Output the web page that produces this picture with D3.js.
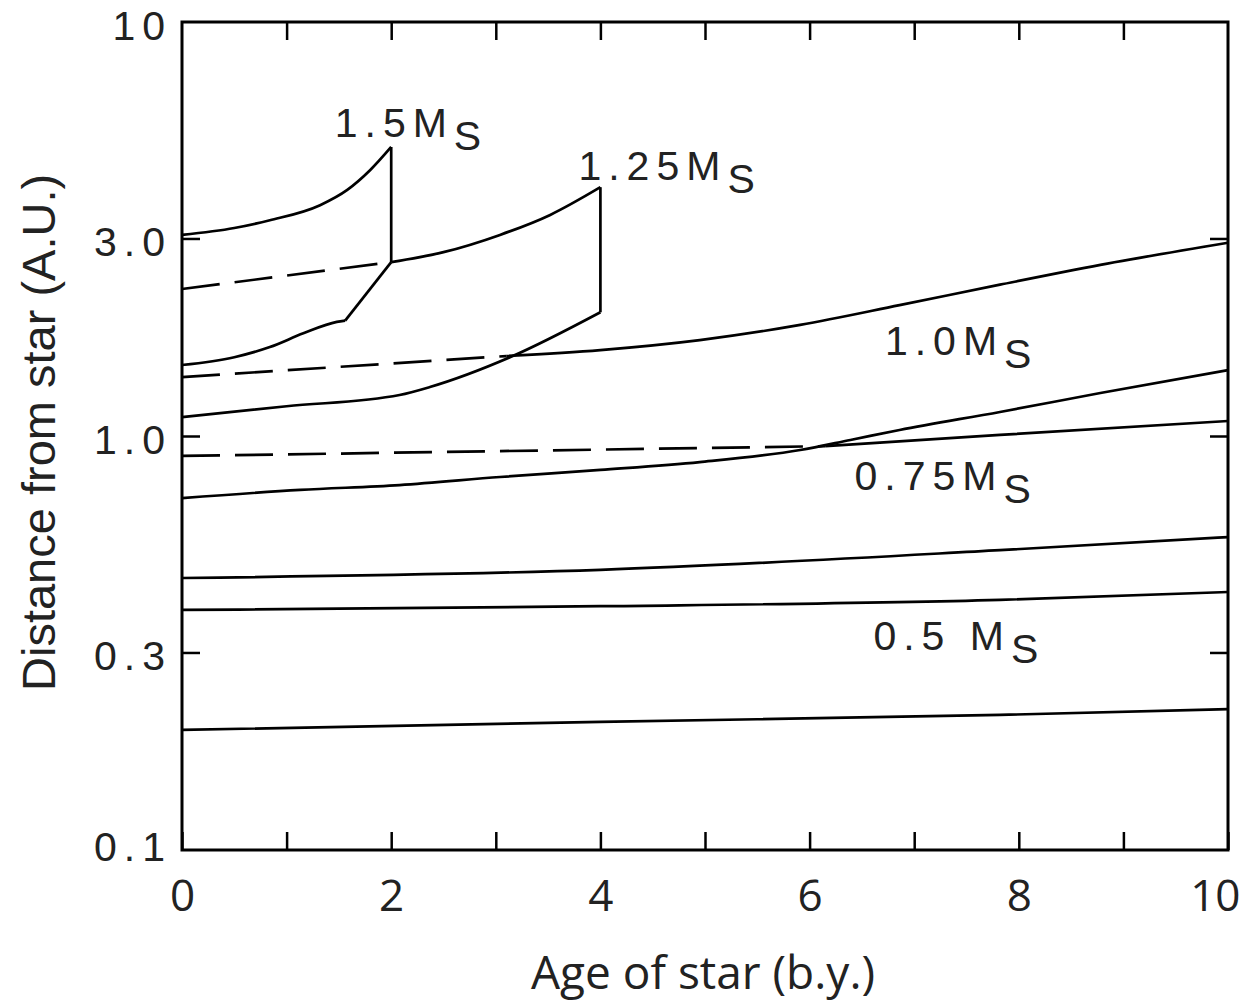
<!DOCTYPE html>
<html>
<head>
<title>Habitable zone vs age</title>
<script src="https://d3js.org/d3.v7.min.js"></script>
<style type="text/css">
	body{ margin:0; background:white; }
	.curve{ fill:none; stroke:black; stroke-width:2.7; }
	.dashed{ stroke-dasharray:38,15; }
	.frame{ fill:none; stroke:black; stroke-width:3; }
	.axis line{ stroke:black; stroke-width:2.5; }
	.axis path{ display:none; }
	.ylab text{ font-family:"Liberation Sans"; font-size:41px; letter-spacing:7px; fill:#222; }
	.xlab text{ font-family:"Open Sans"; font-size:44px; fill:#222; }
	.title{ font-family:"Open Sans"; font-size:46px; fill:#222; }
	.ytitle{ font-family:"Liberation Sans"; font-size:47px; fill:#222; }
	.mass{ font-family:"Liberation Sans"; font-size:41px; letter-spacing:7px; fill:#222; }
</style>
</head>
<body>
<svg id="chart" width="1242" height="1002"></svg>
<script>
// age in b.y., distance in A.U.
var outer15   = [[0,3.06],[0.5,3.18],[0.84,3.32],[1.32,3.61],[1.58,3.93],[1.8,4.39],[2.0,4.99]];
var drop15    = [[2.0,4.99],[2.0,2.63]];
var start15   = [[0,2.265],[2.0,2.63]];
var inner15   = [[0,1.484],[0.5,1.55],[0.84,1.64],[1.16,1.77],[1.48,1.886],[1.56,1.90]];
var climb15   = [[1.56,1.90],[2.0,2.63]];
var outer125  = [[2.0,2.63],[2.5,2.78],[3.04,3.06],[3.52,3.42],[4.0,3.99]];
var drop125   = [[4.0,3.99],[4.0,1.99]];
var start125  = [[0,1.388],[3.1,1.56]];
var inner125  = [[0,1.111],[1.0,1.18],[2.08,1.256],[2.37,1.313],[3.14,1.551],[4.0,1.99]];
var outer10   = [[3.1,1.56],[4.0,1.613],[4.95,1.705],[5.91,1.855],[6.86,2.07],[7.82,2.32],[8.78,2.59],[10,2.93]];
var start10   = [[0,0.895],[6.15,0.945]];
var inner10   = [[6.15,0.945],[7.82,1.006],[10,1.087]];
var outer075  = [[0,0.708],[1.13,0.741],[2.08,0.761],[3.04,0.796],[4.0,0.828],[4.95,0.865],[5.91,0.925],[6.39,0.978],[6.86,1.034],[7.82,1.143],[8.78,1.27],[10,1.443]];
var inner075  = [[0,0.454],[4.0,0.475],[7.82,0.53],[10,0.57]];
var outer05   = [[0,0.380],[4.0,0.388],[7.82,0.402],[10,0.420]];
var inner05   = [[0,0.195],[4.0,0.204],[7.82,0.212],[10,0.219]];

var smoothCurves = [outer15, inner15, outer125, inner125, outer10, inner10, outer075, inner075, outer05, inner05];
var sharpLines   = [climb15, drop15, drop125];
var dashedCurves = [start15, start125, start10];

// curve labels: text, age, distance
var massNames = ["1.5", "1.25", "1.0", "0.75", "0.5 "];
var massAge   = [1.46, 3.79, 6.72, 6.43, 6.61];
var massDist  = [5.27, 4.15, 1.569, 0.741, 0.304];

var xTicks = [0,1,2,3,4,5,6,7,8,9,10];
var yTicks = [0.1, 0.3, 1, 3, 10];
var yTickNames = ["0.1", "0.3", "1.0", "3.0", "10"];

var svg = d3.select("#chart");
var margin = {top:22, right:14, bottom:152, left:182};
var width = +svg.attr("width");
var height = +svg.attr("height");

var x = d3.scaleLinear().domain([0,10]).range([margin.left, width - margin.right]);
var y = d3.scaleLog().domain([0.1,10]).range([height - margin.bottom, margin.top]);

var line = d3.line()
	.x(function(d){ return x(d[0]); })
	.y(function(d){ return y(d[1]); })
	.curve(d3.curveMonotoneX);
var straight = d3.line()
	.x(function(d){ return x(d[0]); })
	.y(function(d){ return y(d[1]); });

// ticks, all pointing into the box
var bottom = svg.append("g").attr("class","axis xlab")
	.attr("transform","translate(0,"+y(0.1)+")")
	.call(d3.axisBottom(x).tickValues(xTicks).tickSize(-18).tickPadding(30)
		.tickFormat(function(d){ return d % 2 == 0 ? d : ""; }));
// last label sits inside the page edge, like the scan
bottom.selectAll(".tick text").filter(function(d){ return d == 10; })
	.attr("text-anchor","end").attr("x", 12);

svg.append("g").attr("class","axis")
	.attr("transform","translate(0,"+y(10)+")")
	.call(d3.axisTop(x).tickValues(xTicks.slice(1,10)).tickSize(-18).tickFormat(""));

var left = svg.append("g").attr("class","axis ylab")
	.attr("transform","translate("+x(0)+",0)")
	.call(d3.axisLeft(y).tickValues(yTicks).tickSize(-18).tickPadding(10)
		.tickFormat(function(d,i){ return yTickNames[i]; }));
left.selectAll(".tick line").filter(function(d){ return d == 0.1 || d == 10; }).remove();
left.selectAll(".tick text").attr("dy","0.42em");
left.selectAll(".tick text").filter(function(d){ return d == 0.1; }).attr("dy","0.25em");

svg.append("g").attr("class","axis")
	.attr("transform","translate("+x(10)+",0)")
	.call(d3.axisRight(y).tickValues([0.3,1,3]).tickSize(-18).tickFormat(""));

svg.append("rect").attr("class","frame")
	.attr("x", x(0)).attr("y", y(10))
	.attr("width", x(10)-x(0)).attr("height", y(0.1)-y(10));

svg.selectAll(".smooth").data(smoothCurves).enter()
	.append("path").attr("class","curve smooth").attr("d", line);
svg.selectAll(".sharp").data(sharpLines).enter()
	.append("path").attr("class","curve sharp").attr("d", straight);
svg.selectAll(".dashed").data(dashedCurves).enter()
	.append("path").attr("class","curve dashed").attr("d", straight);

var labels = svg.selectAll(".mass").data(massNames).enter()
	.append("text").attr("class","mass")
	.attr("x", function(d,i){ return x(massAge[i]); })
	.attr("y", function(d,i){ return y(massDist[i]); });
labels.append("tspan").text(function(d){ return d + "M"; });
labels.append("tspan").attr("dy", 13).text("S");

svg.append("text").attr("class","title")
	.attr("text-anchor","middle")
	.attr("x", 703).attr("y", 989)
	.text("Age of star (b.y.)");
svg.append("text").attr("class","ytitle")
	.attr("text-anchor","middle")
	.attr("transform","translate(55,"+y(1.02)+") rotate(-90)")
	.text("Distance from star (A.U.)");
</script>
</body>
</html>
